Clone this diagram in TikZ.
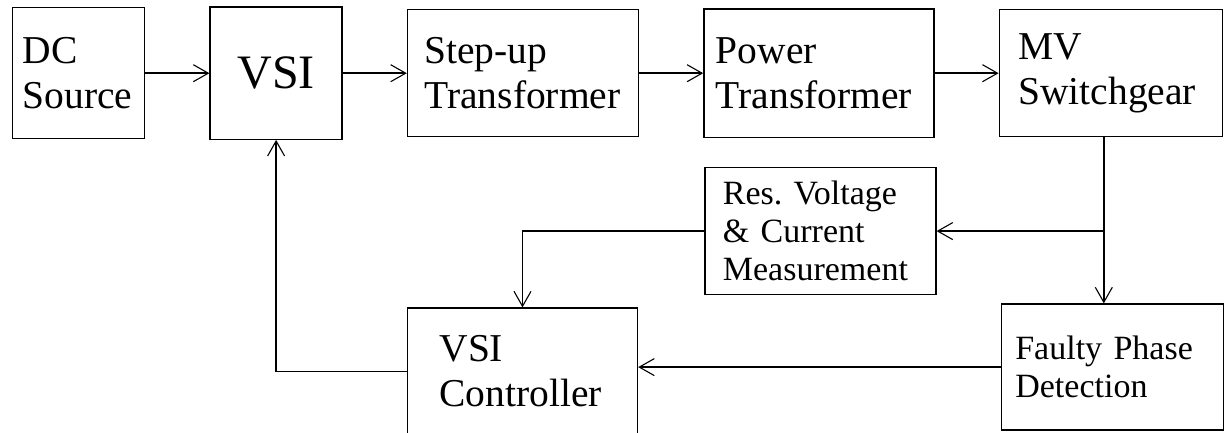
\documentclass[tikz,border=0pt]{standalone}
\usepackage{fontspec}
\setmainfont{Liberation Serif}
\usetikzlibrary{positioning,arrows.meta}
\frenchspacing

\begin{document}
\begin{tikzpicture}[
x=1pt, y=-1pt,
node distance=64pt,
blk/.style={draw, line width=1.4pt, align=left, inner ysep=0pt, font=\fontsize{39.5}{45}\selectfont},
small/.style={font=\fontsize{34}{38}\selectfont},
arrow/.style={-{Straight Barb[length=15pt,width=17pt,line width=1.1pt]}, line width=1.4pt}
]
\useasboundingbox (0,0) rectangle (1225,433);
\node[blk, anchor=north west, inner xsep=10pt, text width=112pt, minimum height=131pt] (dc) at (12,7) {DC\\Source\\[-6pt]};
\node[blk, right=of dc, align=center, inner xsep=16pt, text width=100pt, minimum height=132pt, font=\fontsize{48}{55}\selectfont] (vsi) {VSI};
\node[blk, right=of vsi, inner xsep=17pt, text width=197pt, minimum height=127pt] (up) {Step-up\\Transformer};
\node[blk, right=of up, inner xsep=12pt, text width=206pt, minimum height=128pt] (pow) {Power\\Transformer};
\node[blk, right=of pow, inner xsep=19pt, text width=185pt, minimum height=127pt] (mv) {MV\\Switchgear};
\node[blk, small, below right=29pt and 1pt of pow.south west, inner xsep=18pt, text width=195pt, minimum height=127pt] (res) {Res. Voltage\\\& Current\\Measurement};
\node[blk, small, below right=166pt and 2pt of mv.south west, inner xsep=14pt, text width=194pt, minimum height=126pt] (flt) {Faulty Phase\\Detection};
\node[blk, below right=170pt and 0pt of up.south west, inner xsep=32pt, text width=166pt, minimum height=127pt] (ctl) {VSI\\Controller};
\draw[arrow] (dc) -- (vsi);
\draw[arrow] (vsi) -- (up);
\draw[arrow] (up) -- (pow);
\draw[arrow] (pow) -- (mv);
\coordinate (split) at ([xshift=-7pt]mv.south |- res.east);
\draw[line width=1.4pt] ([xshift=-7pt]mv.south) -- (split);
\draw[arrow] (split) -- (res.east);
\draw[arrow] (split) -- (split |- flt.north);
\draw[arrow] (res.west) -| (ctl.north);
\draw[arrow] (flt.west) -- (flt.west -| ctl.east);
\draw[arrow] (ctl.west) -| (vsi.south);
\end{tikzpicture}
\end{document}
